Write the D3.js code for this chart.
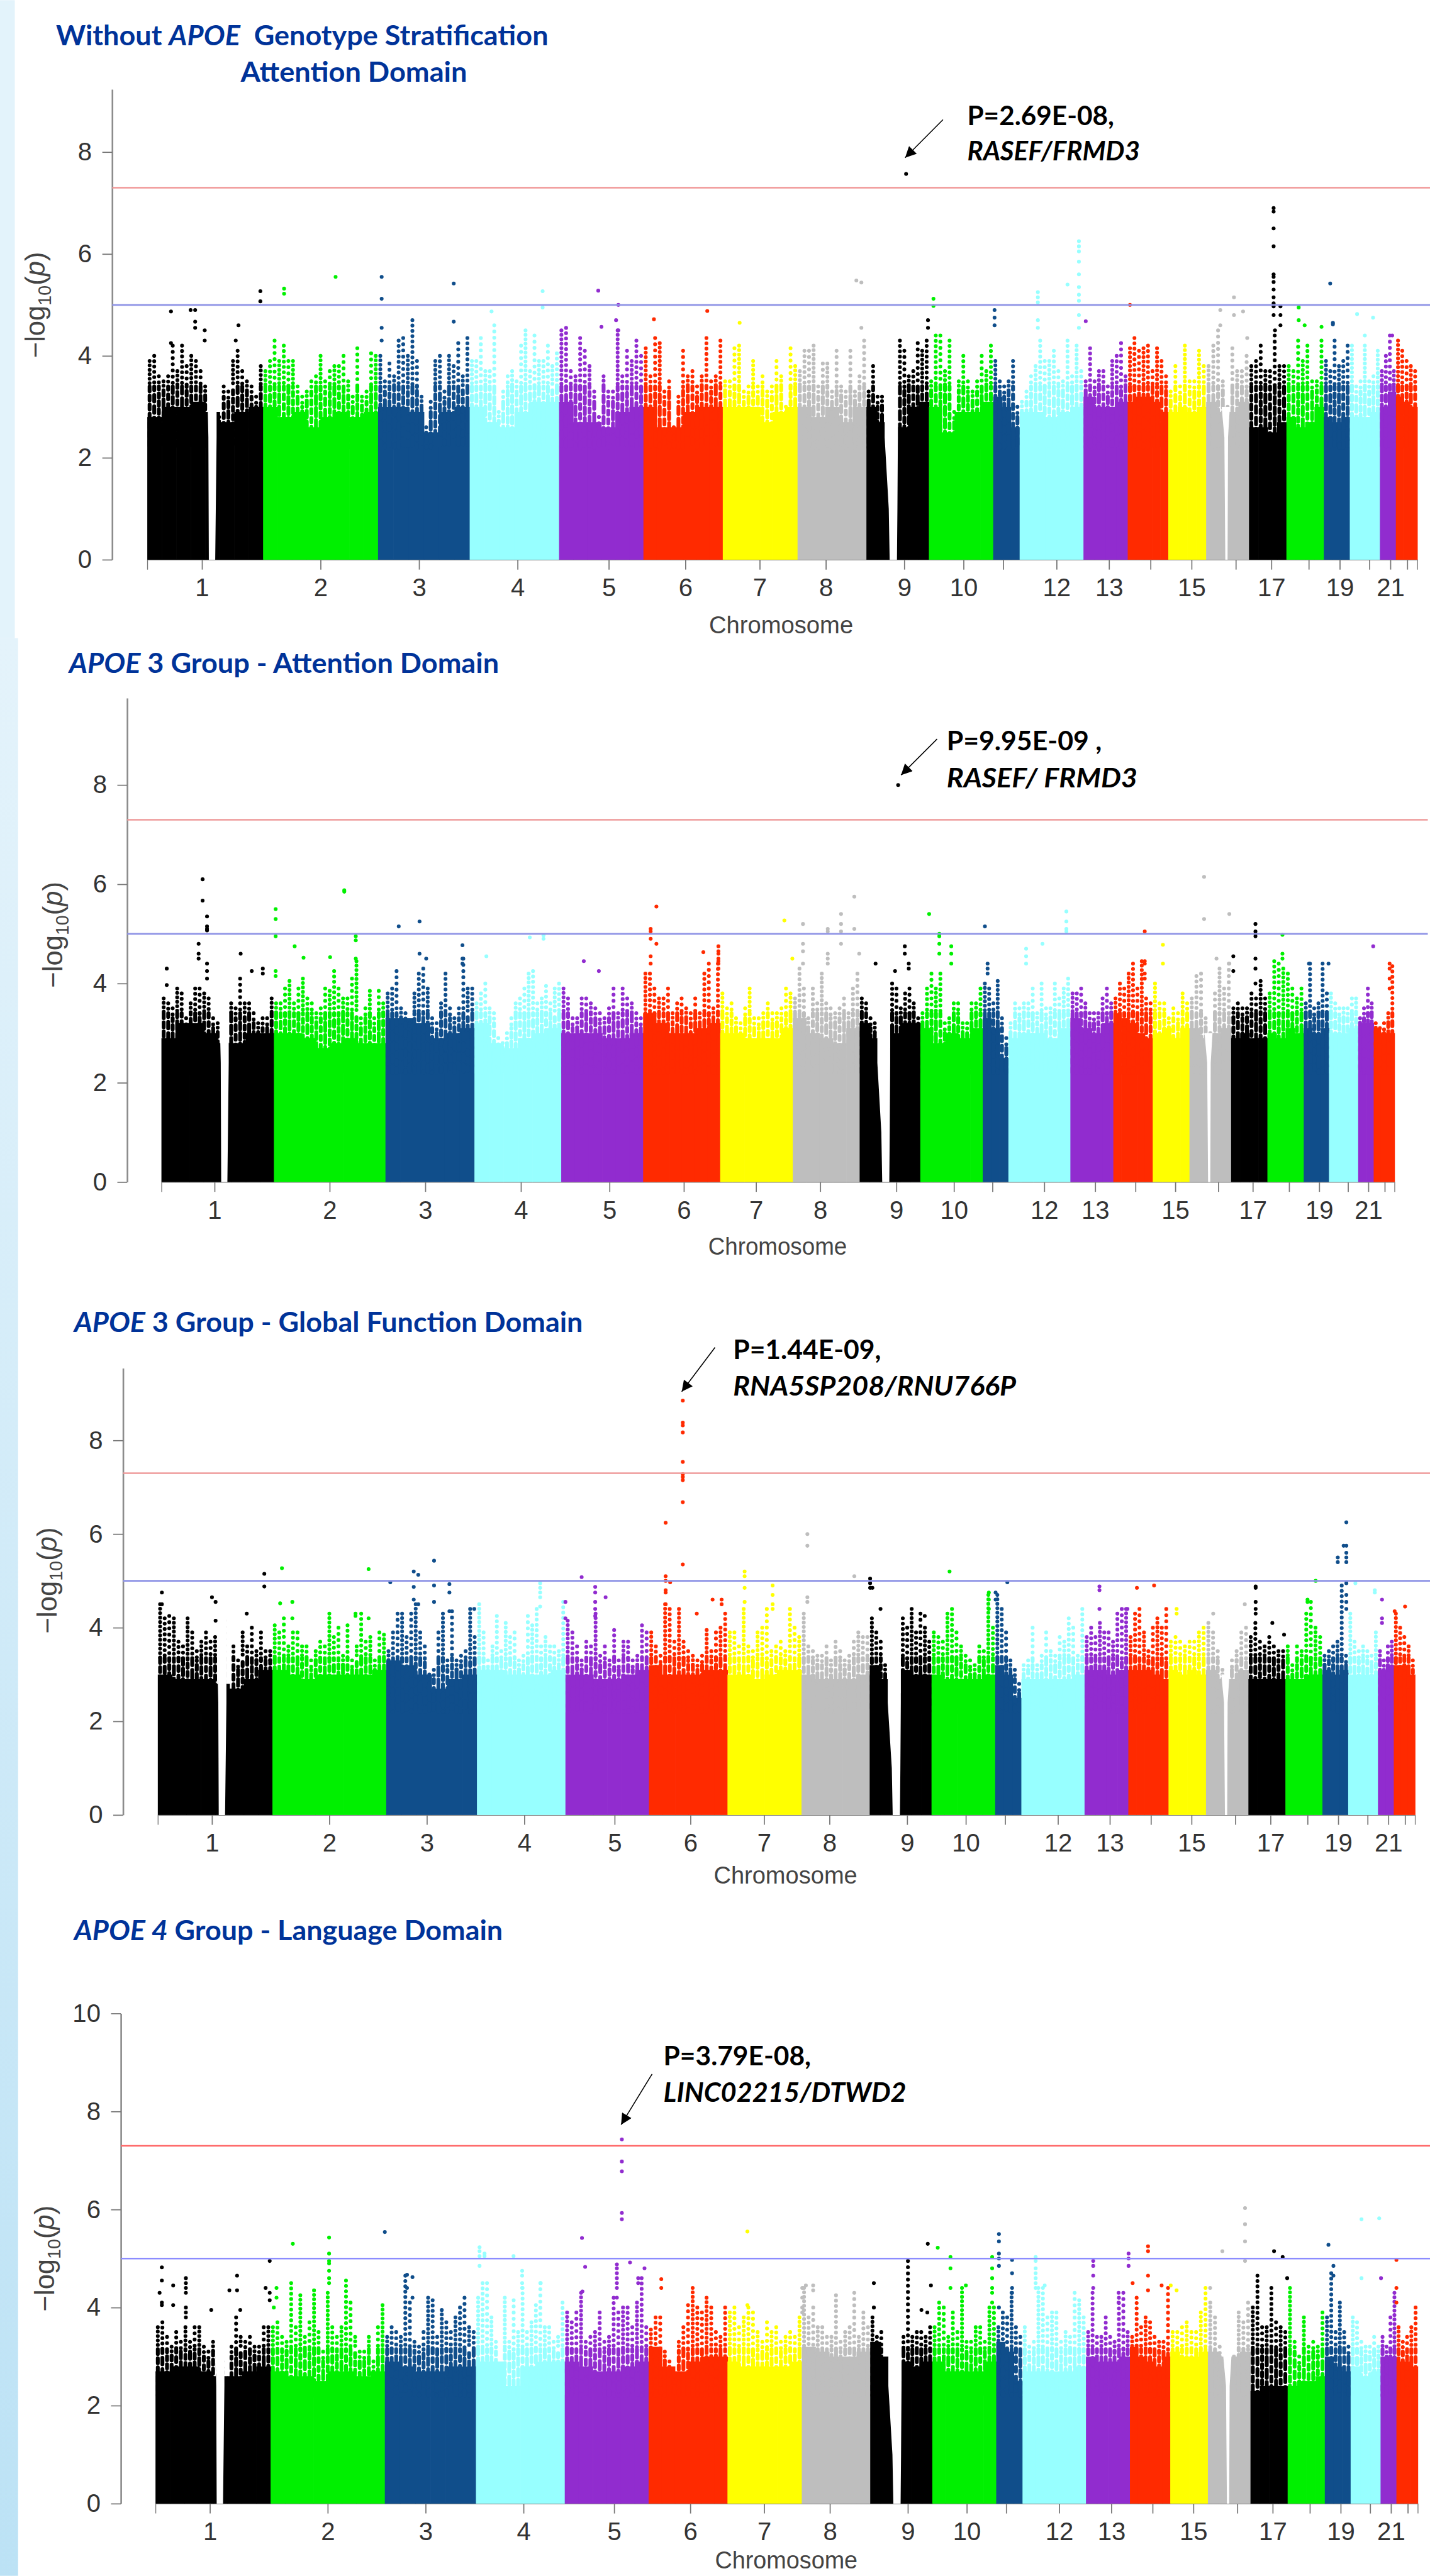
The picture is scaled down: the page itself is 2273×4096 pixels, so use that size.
<!DOCTYPE html>
<html>
<head>
<meta charset="utf-8">
<script src="https://cdn.jsdelivr.net/npm/d3@7"></script>
<style>
  html, body { margin: 0; padding: 0; background: #fff; }
  svg { display: block; }
</style>
</head>
<body>
<div id="chart"></div>
<script>
// DATA //
// positions along the genome are in track units, 0 to 2785 across the 22 chromosomes

const chromEdges = [0,254,506,707,903,1088,1262,1426,1577,1714,1855,1913,2053,2150,2239,2322,2416,2498,2580,2637,2703,2738,2785];
const chromTicks = [120,380,596,812,1012,1180,1343,1488,1660,1790,1877,1994,2109,2200,2290,2387,2465,2547,2615,2680,2726,2763];
const chromLabels = ["1","2","3","4","5","6","7","8","9","10","","12","13","","15","","17","","19","","21",""];
const chromColors = ["#000000","#00f000","#104e8b","#97ffff","#912ccf","#ff2a00","#ffff00","#bebebe"];

// centromere notches, rows of [value, left, right]
const notchChr1 = [[0,135,149],[2.4,134,152],[3.2,132,152],[5,132,152]];
const notchChr9 = [[0,1628,1644],[1.0,1626,1645],[2.4,1617,1646],[5,1617,1646]];
const notchChr16 = [[0,2364,2369],[2.4,2362,2370],[3.0,2356,2374]];

// panel 1, without stratification, attention
const allAttnMass = [[2.8,3.0,3.0,3.1,2.9,2.7,2.9,3.0],[3.0,2.8,2.9,2.6,2.8,2.9,2.8,2.9],[3.0,3.0,2.9,2.5,2.9,3.0],[3.0,2.7,2.6,2.9,3.1,3.1],[3.1,2.7,2.7,2.6,2.9,3.0],[3.0,2.6,2.6,2.9,3.0,3.0],[3.0,3.0,3.0,2.7,2.9,3.0],[3.0,2.8,3.0,2.7,3.0],[3.0,2.7,2.6,2.6,3.0,3.1],[3.0,2.5,2.9,2.9,3.1],[3.2,3.0,2.6],[2.9,2.9,2.8,2.9,3.0],[3.2,3.0,3.0,3.1],[3.1,3.2,3.2,3.1,2.9],[2.9,3.0,2.9,3.0],[3.1,2.9,2.9,3.1],[2.6,2.6,2.5,2.7],[2.8,2.6,2.7,3.0],[2.8,2.7,2.8],[2.8,2.8,2.9],[3.0,3.3],[3.2,3.1,3.0]];
const allAttnTowers = [
  [3.9,4.0,3.6,3.5,3.6,4.2,3.7,4.2,3.8,4.0,3.9,3.7,3.4,0,0,2.8,3.4,3.3,3.9,4.1,3.7,3.5,3.4,3.2,3.8],
  [3.7,3.9,4.3,3.9,4.2,3.9,3.9,3.4,3.2,3.3,3.5,3.6,4.0,3.5,3.7,3.8,3.8,4.0,3.5,3.2,4.15,3.2,3.3,4.05,4.0],
  [4.0,3.5,3.85,3.6,4.3,4.35,4.0,4.7,3.9,3.2,2.6,3.1,3.9,4.0,3.3,4.0,3.8,4.25,3.6,4.35],
  [3.9,3.9,4.35,3.7,3.7,4.6,2.9,3.3,3.6,3.7,3.5,4.2,4.5,3.7,4.4,3.9,3.9,4.2,3.8,4.05],
  [4.5,4.55,3.7,3.6,4.35,4.1,3.8,3.3,2.8,3.6,3.3,3.3,4.5,3.6,4.1,3.9,4.3,4.0],
  [4.15,3.6,4.35,4.25,3.3,3.5,2.6,3.2,4.1,3.6,3.7,3.4,3.6,4.35,3.5,3.6,4.3],
  [3.5,3.5,4.15,4.2,3.3,3.4,3.9,3.4,3.6,3.3,3.4,3.9,3.6,3.0,4.15,3.8],
  [3.7,4.1,4.1,4.2,3.4,3.85,3.85,3.3,4.1,3.4,3.3,4.1,3.3,3.6,4.3],
  [3.3,3.8,3.2,3.2,0,0,2.5,4.3,4.1,3.6,3.7,4.25,4.1,4.3],
  [3.5,4.4,4.4,3.7,4.3,2.9,3.5,4.0,3.5,3.3,3.5,4.0,3.7,4.2],
  [3.9,3.5,3.4,3.5,3.9,3.0],
  [3.1,3.3,3.6,3.8,4.3,3.9,3.9,4.1,3.7,3.5,4.3,3.6,4.2,3.7],
  [3.5,4.15,3.5,3.7,3.7,3.4,3.9,4.0,4.25,3.6],
  [4.15,4.35,4.1,4.15,4.2,3.7,4.15,3.9,3.6],
  [3.3,3.8,3.4,4.2,3.5,3.5,4.1,3.8],
  [3.8,4.2,4.5,3.5,3.0,4.15,3.7,3.7,4.0],
  [3.8,3.9,4.2,3.7,3.7,4.4,3.8,3.8],
  [3.8,3.7,4.3,3.9,4.2,3.5,3.5,4.3],
  [3.9,3.7,4.3,3.8,3.9,4.2],
  [4.2,3.4,3.5,4.2,3.5,3.6,4.1],
  [3.7,4.0,4.4,3.7],
  [4.3,4.1,3.9,3.8,3.7]
];
const allAttnPeaks = [[52,4.87,4.25],[95,4.9],[105,4.9,4.67,4.55],[126,4.5,4.3],[194,4.3],[200,4.6],[248,5.27,5.07],[300,5.32,5.22],[413,5.55],[514,5.55,5.12,4.55,4.3],[672,5.42,4.67],[755,4.87],[867,5.27,4.95],[989,5.28],[1033,5.0,4.5],[1028,4.7],[996,4.57],[1111,4.72],[1228,4.88],[1299,4.65],[1555,5.48],[1566,5.44,4.55],[1664,7.57],[1712,4.7,4.55],[1724,5.12,4.98],[1858,4.9,4.75,4.6],[1953,5.25,5.15,5.05,4.7,4.55],[2043,6.25,6.15,6.05,5.85,5.6,5.35,5.2,5.08,4.8,4.55],[2018,5.4],[2058,4.68],[2155,5.0],[2353,4.9,4.6],[2383,5.15,4.8],[2403,4.87],[2412,4.35],[2470,6.9,6.83,6.5,6.15,5.6,5.55,5.45,5.3,5.15,5.03,4.97,4.8],[2485,4.97,4.8,4.6],[2473,4.5],[2525,4.95,4.7],[2538,4.6],[2575,4.57],[2594,5.42],[2600,4.65,4.62],[2653,4.82],[2688,4.75],[2670,4.4],[2730,4.4]];

// panel 2, APOE 3, attention
const e3AttnMass = [[2.9,3.2,3.2,3.0,2.8,2.8,3.0,3.0],[3.0,3.0,2.9,2.7,2.8,2.9,2.8,2.8],[3.3,3.3,3.2,2.9,3.0,3.1],[3.2,2.8,2.7,2.9,3.0,3.1],[3.0,3.0,3.0,2.9,2.9,3.0],[3.4,3.2,3.0,3.0,3.1,3.2],[3.0,3.0,2.9,2.9,2.9,3.1],[3.3,3.0,2.9,2.8,3.1],[3.2,2.9,2.7,3.0,3.2,3.2],[3.1,2.8,3.0,2.9,3.1],[3.3,3.1,2.5],[2.9,3.0,3.0,2.9,3.1],[3.3,3.1,3.0,3.2],[3.4,3.3,3.2,3.0,2.9],[3.0,3.1,2.9,3.1],[3.1,2.9,3.0,3.1],[2.9,3.0,2.9,2.9],[3.0,2.9,3.1,3.0],[3.1,3.0,3.1],[3.0,3.0,3.1],[3.2,3.2],[3.1,3.0,3.0]];
const e3AttnTowers = [
  [3.7,3.6,3.5,3.9,3.8,3.3,3.6,3.9,3.9,3.8,3.7,3.3,3.2,0,2.8,3.6,3.5,4.1,3.6,3.6,3.4,3.2,3.3,3.3,3.7],
  [3.6,3.6,3.9,4.05,3.6,3.9,4.1,3.7,3.6,3.4,3.5,3.9,3.85,4.25,3.9,3.7,3.7,4.1,4.45,3.3,3.5,3.85,3.3,3.85,3.6],
  [3.8,3.9,4.25,3.5,3.4,3.2,3.8,4.2,4.3,3.9,3.3,3.2,3.6,4.2,3.5,3.3,3.5,4.5,3.9,3.9],
  [3.6,3.8,4.0,3.5,3.4,2.9,2.8,3.0,3.3,3.6,3.7,3.9,4.2,4.25,3.6,3.7,3.95,3.6,3.9,4.0],
  [3.9,3.7,3.3,3.3,3.7,3.7,3.6,3.5,3.4,3.3,3.5,3.9,3.4,3.9,3.7,3.6,3.4,3.3],
  [4.2,4.2,3.9,3.7,3.7,3.9,3.4,3.6,3.7,3.5,3.4,3.7,3.4,4.2,4.4,3.5,4.4],
  [3.8,3.5,3.6,3.3,3.2,3.5,3.9,3.3,3.3,3.4,3.6,3.4,3.4,3.5,3.9,3.8],
  [3.7,4.3,3.9,3.3,3.9,3.6,4.2,3.6,3.5,3.4,3.5,3.7,3.4,3.9,4.2],
  [3.7,3.6,3.3,3.2,0,0,2.5,4.0,3.9,3.5,3.8,3.9,3.6,3.3],
  [3.4,3.9,4.2,3.9,4.2,3.2,3.3,3.6,3.6,3.2,3.2,3.6,3.6,3.9],
  [4.0,3.9,3.6,4.05,3.3,2.9],
  [3.2,3.6,3.5,3.6,3.6,3.9,3.4,4.0,3.5,3.5,4.0,3.7,3.9,4.1],
  [3.8,3.8,3.9,3.6,3.4,3.4,3.4,3.7,3.9,3.6],
  [3.7,4.0,3.9,4.2,4.4,3.9,4.45,3.7,3.6],
  [4.0,3.6,3.6,3.3,3.5,3.4,3.8,3.6],
  [3.7,4.15,4.2,3.3,3.0,3.8,4.3,3.9,4.4],
  [3.5,3.6,3.5,3.5,3.8,3.7,4.05,3.7],
  [3.8,4.45,4.4,4.3,4.2,3.9,3.7,3.9],
  [3.6,4.4,3.5,3.6,4.4,3.8],
  [3.8,3.6,3.5,3.5,3.5,3.7,3.7],
  [3.3,3.5,3.9,3.6],
  [3.2,3.1,3.2,3.4,4.35]
];
const e3AttnPeaks = [[12,4.3,3.97],[93,6.1,5.67],[103,5.35,5.15,5.1,5.07,4.4,4.25,4.1],[84,4.8,4.6,4.5],[179,4.6],[204,4.25],[229,4.3,4.2],[258,5.5,5.3,4.95,4.25,4.15],[301,4.75],[321,4.52],[381,4.53],[413,5.88,5.85],[439,4.95,4.87,4.5],[536,5.15],[583,5.25,4.6],[598,4.5],[680,4.77,4.5,4.4],[734,4.55],[832,4.93],[863,4.97,4.9],[954,4.45],[988,4.25],[1118,5.55],[1105,5.1,5.05,4.9,4.55,4.4],[1118,4.8],[1224,4.63],[1258,4.75,4.65,4.6,4.5,4.45,4.4,4.3],[1407,5.27],[1425,4.5],[1449,5.2,4.8,4.65,4.4],[1505,5.1,5.05,4.6,4.5,4.4],[1535,5.4,5.2,5.05,4.8],[1565,5.75,5.1],[1576,4.6],[1613,4.4],[1664,8.0],[1679,4.75,4.6],[1688,4.4,4.3],[1657,4.25],[1734,5.4],[1757,5.0,4.95,4.8,4.6],[1784,4.75,4.6,4.4],[1860,5.15],[1866,4.4,4.3,4.2],[2044,5.45,5.25,5.1,5.05],[1953,4.7,4.55,4.4],[1990,4.8],[2221,5.05,4.45,4.4,4.2,4.1],[2262,4.78,4.4],[2355,6.15,5.3],[2383,4.5],[2412,5.4,4.4],[2421,4.55,4.25],[2471,5.2,5.05,5.0,4.95,4.5,4.3,4.0],[2532,4.98,4.6,4.5],[2592,4.4],[2636,4.4],[2737,4.75],[2774,4.4,4.3,4.1,3.9]];

// panel 3, APOE 3, global function
const e3GlobalMass = [[3.0,2.9,2.9,2.9,2.8,2.7,2.9,3.1],[3.1,3.0,2.9,3.0,3.0,3.0,3.0,3.1],[3.3,3.2,3.0,2.7,2.9,3.0],[3.1,3.1,3.0,3.0,3.0,3.1],[3.0,3.0,2.9,2.9,3.0,3.1],[3.2,3.0,3.0,3.0,3.1,3.1],[3.0,3.0,2.9,3.0,3.1,3.1],[3.0,2.9,2.9,2.9,3.0],[3.2,2.9,2.6,3.1,3.0,3.0],[3.0,2.9,2.9,2.9,3.0],[3.2,3.0,2.5],[2.9,2.9,2.9,2.9,3.0],[3.1,3.1,3.0,3.1],[3.1,3.1,3.1,3.0,2.9],[3.1,3.0,3.1,3.0],[3.1,2.9,2.9,3.1],[2.9,2.9,2.9,2.9],[2.9,2.9,3.0,3.0],[3.1,3.0,3.1],[3.0,3.0,3.0],[3.1,3.2],[3.2,3.2,3.0]];
const e3GlobalTowers = [
  [4.5,4.2,4.25,4.2,3.7,3.6,4.2,3.9,3.5,3.7,3.9,3.7,3.8,4.1,4.15,0,3.6,3.3,3.9,3.6,4.0,3.5,3.9,3.5,3.5],
  [4.05,3.9,4.2,3.6,3.9,3.9,3.6,3.6,3.3,3.5,3.7,3.6,4.3,3.8,4.0,3.4,4.05,3.3,3.6,4.3,3.7,3.8,3.3,3.9,3.85],
  [3.5,3.9,4.3,4.3,3.8,4.3,4.5,3.9,3.6,3.0,3.1,3.9,4.3,3.3,4.35,3.3,3.4,3.5,4.4,3.8],
  [4.5,3.9,3.3,3.6,4.25,3.5,4.1,3.8,3.9,3.3,3.4,4.25,4.05,4.4,3.6,3.8,3.6,3.6,3.5,4.55],
  [4.15,3.9,3.6,3.3,3.7,3.6,4.3,3.4,3.6,3.3,3.95,3.3,3.7,3.7,3.3,3.4,4.05,3.9],
  [3.9,3.6,3.4,4.5,4.4,3.7,4.4,3.7,3.5,3.4,3.3,3.4,3.95,3.5,3.9,4.0,4.3],
  [3.9,3.9,3.6,4.4,3.6,3.5,3.9,4.0,4.4,3.5,3.6,3.7,3.5,4.4,4.0,3.8],
  [4.3,3.6,3.5,3.4,3.4,3.6,3.3,3.7,3.5,3.3,3.4,3.7,3.9,3.8,3.8],
  [4.2,3.9,3.7,3.2,0,0,2.3,4.2,4.0,4.3,3.9,4.3,4.0,3.7],
  [3.9,3.8,3.7,4.3,4.4,3.9,3.6,3.4,3.3,3.2,3.6,3.5,4.7,4.0],
  [4.7,4.4,3.9,3.3,3.1,2.8],
  [3.2,3.3,4.0,3.2,3.4,3.9,3.5,3.4,3.8,3.7,4.2,4.0,3.4,4.4],
  [3.8,4.0,3.8,4.1,3.9,3.9,3.7,4.3,4.4,4.4],
  [3.8,4.3,4.4,3.9,3.5,4.0,4.2,4.0,4.4],
  [3.7,3.8,3.7,3.6,3.7,3.7,3.9,4.0],
  [4.1,3.9,3.5,3.1,2.9,3.3,3.5,3.9,4.0],
  [3.8,4.1,3.7,3.6,3.8,3.6,3.5,3.5],
  [3.6,3.2,3.6,3.5,4.3,4.55,4.0,3.8],
  [3.4,3.5,3.6,3.7,4.9,3.4],
  [4.3,3.7,3.5,3.6,3.5,3.4,3.9],
  [3.5,3.3,3.6,3.7],
  [4.3,4.0,3.8,3.6,3.3]
];
const e3GlobalPeaks = [[9,4.75,4.5],[120,4.65],[128,4.55,4.15],[197,4.3],[236,5.15,4.88],[275,5.27],[271,4.52],[298,4.55,4.2],[467,5.25,4.2],[438,4.3,4.25],[515,4.97],[567,5.2,4.87,4.6],[577,5.13,4.5],[612,5.43,4.9,4.55],[646,4.93,4.75,4.35],[701,4.4],[847,4.95,4.85,4.75,4.65,4.45],[903,4.55,4.2],[939,5.08],[969,4.87,4.75,4.55,4.4,4.25],[992,4.65],[1163,8.85,8.38,8.32,8.17,7.54,7.28,7.22,7.15,6.68,5.35],[1125,6.24,5.1,5.0,4.8,4.75,4.5],[1135,4.97],[1229,4.6],[1194,4.3],[1249,4.6,4.5],[1300,5.2,5.1,4.85,4.55],[1362,4.9,4.7,4.5,4.4],[1439,6.0,5.75,4.65,4.55],[1543,5.1],[1578,5.05,4.95,4.85],[1583,4.85],[1601,4.4],[1670,4.4],[1699,4.25],[1754,5.2],[1841,4.75,4.6,4.4],[1856,4.75,4.6],[1882,4.97],[2086,4.88,4.8,4.4],[2148,4.4],[2169,4.85],[2207,4.9],[2257,4.4,4.3],[2338,4.3],[2408,4.5],[2432,4.88,4.85,4.55,4.4,4.3],[2469,4.1],[2495,3.85],[2565,5.0],[2547,4.6,4.55],[2633,6.25,5.75,5.6,5.5,5.4,4.95,4.7,4.55,4.4],[2627,5.75],[2614,5.5,5.4],[2653,4.95],[2696,4.8,4.75],[2712,4.6,4.2,4.1],[2763,4.45],[2740,4.35]];

// panel 4, APOE 4, language
const e4LangMass = [[2.7,2.8,2.8,2.7,2.6,2.6,2.7,2.8],[2.7,2.6,2.6,2.5,2.7,2.7,2.6,2.7],[2.9,2.8,2.7,2.7,2.8,2.8],[2.9,2.9,2.4,2.8,2.9,2.9],[2.9,2.8,2.7,2.7,2.8,2.9],[3.2,2.8,2.7,2.9,3.0,3.0],[2.9,2.8,2.8,2.8,2.8,2.9],[3.2,3.1,3.0,3.0,3.1],[3.3,3.0,2.5,2.9,2.8,2.9],[2.9,2.7,2.7,2.7,2.9],[3.3,3.1,2.5],[2.7,2.7,2.7,2.7,2.8],[3.0,2.9,2.9,3.0],[3.2,3.0,2.9,2.8,3.0],[3.1,3.0,3.0,3.1],[3.1,3.0,3.0,3.1],[2.3,2.4,2.4,2.4],[2.4,2.5,2.5,2.6],[3.0,2.8,2.7],[2.8,2.6,2.7],[3.0,3.0],[2.9,2.9,2.8]];
const e4LangTowers = [
  [3.6,3.7,3.4,3.2,3.5,3.3,3.6,3.3,3.6,3.6,3.2,3.1,3.3,3.2,2.9,0,3.2,3.8,3.4,3.3,3.4,3.2,3.2,3.6,3.6],
  [3.6,3.7,3.4,3.3,4.5,3.6,4.25,3.4,3.7,4.35,3.5,3.1,4.3,3.6,3.4,3.6,4.55,4.1,3.4,3.1,3.1,3.4,2.9,3.6,4.05],
  [3.4,3.6,3.5,3.4,4.65,4.1,3.3,3.2,3.5,4.2,4.15,3.4,3.95,3.7,3.5,3.8,4.0,4.2,3.6,3.5],
  [4.2,4.5,4.5,3.8,3.3,2.4,4.2,3.3,4.15,3.5,4.4,3.5,3.7,4.05,4.5,3.6,3.6,3.3,3.4,4.1],
  [3.9,3.7,3.9,4.3,3.3,3.4,3.5,3.9,3.3,3.4,4.2,3.9,4.0,4.0,3.6,4.1,4.6,3.6],
  [3.55,3.8,3.8,3.1,2.9,2.6,3.3,3.6,4.05,4.4,4.0,3.9,4.2,4.0,3.5,3.4,4.0],
  [3.9,4.0,3.6,3.8,4.0,3.9,3.5,3.3,3.7,3.5,3.6,3.3,3.4,3.5,3.4,3.8],
  [4.4,3.8,4.0,3.6,3.6,3.4,3.4,4.25,3.3,3.5,3.6,4.3,3.4,3.9,3.6],
  [3.8,3.4,3.5,2.7,0,0,2.6,3.4,4.95,3.4,3.5,3.5,3.4,3.6],
  [3.6,4.1,4.0,3.4,3.9,3.5,4.4,3.3,3.3,3.6,3.6,3.3,4.0,4.0],
  [3.6,3.9,3.8,4.3,3.6,3.4],
  [3.6,3.2,3.3,4.4,4.4,3.8,3.9,3.9,3.3,3.5,3.4,4.3,4.15,3.8],
  [3.5,4.3,3.4,3.4,3.8,3.4,3.3,4.2,4.3,3.5],
  [3.4,4.2,3.6,3.8,3.7,3.4,3.3,3.3,4.4],
  [3.5,3.5,3.6,3.7,3.5,3.5,3.9,4.4],
  [4.1,3.8,3.2,2.8,2.6,3.0,3.9,3.7,4.1],
  [4.0,4.65,3.6,3.6,4.4,3.7,3.6,3.5],
  [4.4,3.3,3.0,3.8,3.2,3.3,3.2,3.9],
  [3.8,4.7,3.5,4.1,3.5,3.2],
  [3.8,3.7,3.3,3.2,3.2,3.4,3.2],
  [3.4,3.2,3.8,4.3],
  [3.6,3.3,3.4,3.6,4.0]
];
const e4LangPeaks = [[14,4.82,4.55,4.1,4.05],[9,4.3],[39,4.45,4.05],[67,4.6,4.5,4.4,4.3,4.0,3.9,3.8],[123,3.95],[180,4.65,4.35],[163,4.35],[187,3.95],[243,4.4],[252,4.95,4.3,4.15],[261,4.0],[303,5.3],[383,5.43,5.1,4.95,4.9,4.75,4.6,4.5],[506,5.54],[267,4.4,4.2],[555,4.67,4.4],[567,4.62,4.2],[715,5.23,5.15,5.05,4.85],[726,5.1,5.05],[790,5.05],[809,4.75,4.65,4.5,4.4],[850,4.5],[941,5.42],[948,4.83],[942,4.33],[1029,7.43,6.98,6.78,5.93,5.8],[1018,4.88,4.8,4.7,4.6,4.5,4.4,4.2],[1047,4.92],[1079,4.8],[1065,4.6,4.5],[1116,4.58,4.4],[1306,5.55,4.05],[1427,4.4,4.2,4.0,3.9],[1435,4.45],[1451,4.45,4.35],[1585,4.5,4.0],[1704,5.3],[1711,4.45],[1690,3.95],[1703,3.9],[1726,5.22],[1754,5.03,4.8,4.4],[1846,5.03,4.8,4.6,4.4,4.3,4.1],[1788,4.45],[1861,5.5,5.35,5.1,5.0,4.85,4.0],[1890,4.97,4.7,4.4,4.3],[1942,5.03,4.95,4.8,4.7,4.6,4.5,4.4],[1962,4.45],[2069,4.95,4.85,4.65,4.4],[2147,5.1,5.0,4.85],[2125,4.3,4.1],[2190,5.25,5.15,4.65,4.35],[2220,4.45],[2240,4.45],[2156,4.5],[2253,4.35],[2327,4.4],[2404,6.03,5.7,5.35,4.95],[2354,5.15],[2468,5.15],[2487,5.03],[2497,4.6],[2588,5.28],[2599,4.85,4.65],[2661,5.8,4.6],[2700,5.82],[2704,4.6],[2738,4.97,4.4,4.1]];

// LAYOUT //
const refWidth = 2608, refHeight = 4699;

const panels = [
  { mass: allAttnMass, towers: allAttnTowers, peaks: allAttnPeaks, denseTop: 3.4, x0: 268.6, x1: 2584.8, y0: 1020.8, yTopPx: 162.7, yMax: 9.23, axisX: 204.6, lineEnd: 2608,
    ticks: [0,2,4,6,8], ylabX: 82, ylabY: 556, xlab: [1293,1155,263], redC: "#f19797", blueC: "#8f94e6",
    title: [{x:102,y:82,w:898,parts:[["Without ",0],["APOE",1],["  Genotype Stratification",0]]},{x:439,y:149,w:413,parts:[["Attention Domain",0]]}],
    notes: [[1764,228,268,"P=2.69E-08,",0],[1764,292,315,"RASEF/FRMD3",1]], arrow: [1719.8,218,1650.8,287.3] },
  { mass: e3AttnMass, towers: e3AttnTowers, peaks: e3AttnPeaks, denseTop: 3.4, x0: 294.4, x1: 2543.2, y0: 2156.1, yTopPx: 1273.4, yMax: 9.75, axisX: 232, lineEnd: 2604,
    ticks: [0,2,4,6,8], ylabX: 114, ylabY: 1705, xlab: [1291.6,2289,253], redC: "#ee9a9a", blueC: "#8f94e6",
    title: [{x:126,y:1227,w:784,parts:[["APOE",1],[" 3 Group - Attention Domain",0]]}],
    notes: [[1726.5,1369,283,"P=9.95E-09 ,",0],[1726.5,1436,348,"RASEF/ FRMD3",1]], arrow: [1709,1348,1643.3,1413.7] },
  { mass: e3GlobalMass, towers: e3GlobalTowers, peaks: e3GlobalPeaks, denseTop: 3.35, x0: 287.8, x1: 2580.6, y0: 3310.9, yTopPx: 2496, yMax: 9.54, axisX: 224.5, lineEnd: 2608,
    ticks: [0,2,4,6,8], ylabX: 103, ylabY: 2883, xlab: [1301.6,3435.6,262], redC: "#ee9a9a", blueC: "#8f94e6",
    title: [{x:135,y:2430,w:928,parts:[["APOE",1],[" 3 Group - Global Function Domain",0]]}],
    notes: [[1337,2479,270,"P=1.44E-09,",0],[1337,2546,516,"RNA5SP208/RNU766P",1]], arrow: [1304,2458,1243.3,2538.6] },
  { mass: e4LangMass, towers: e4LangTowers, peaks: e4LangPeaks, denseTop: 3.15, x0: 283.6, x1: 2585.6, y0: 4567.3, yTopPx: 3673, yMax: 10, axisX: 220.5, lineEnd: 2608,
    ticks: [0,2,4,6,8,10], ylabX: 99, ylabY: 4120, xlab: [1304,4686,260], redC: "#ff6a6a", blueC: "#8c8cff",
    title: [{x:135,y:3539,w:782,parts:[["APOE 4",1],[" Group - Language Domain",0]]}],
    notes: [[1210,3768,269,"P=3.79E-08,",0],[1210,3834,443,"LINC02215/DTWD2",1]], arrow: [1189.3,3783.5,1132.7,3876] }
];

const svg = d3.select("#chart").append("svg")
  .attr("width", 2273)
  .attr("height", 4096)
  .attr("viewBox", "0 0 " + refWidth + " " + refHeight);

const defs = svg.append("defs");

// pale blue strip down the left edge
let stripGrad = defs.append("linearGradient").attr("id", "strip")
  .attr("x1", 0).attr("y1", 0).attr("x2", 0).attr("y2", 1);
stripGrad.append("stop").attr("offset", 0).attr("stop-color", "#e4f3fb");
stripGrad.append("stop").attr("offset", 1).attr("stop-color", "#bce2f5");

svg.append("rect").attr("width", refWidth).attr("height", refHeight).attr("fill", "#fff");
svg.append("rect").attr("x", 0).attr("y", 0).attr("width", 27).attr("height", 1164).attr("fill", "#e3f3fb");
svg.append("rect").attr("x", 0).attr("y", 1164).attr("width", 33).attr("height", refHeight - 1164).attr("fill", "url(#strip)");

defs.append("marker").attr("id", "head")
  .attr("viewBox", "0 0 10 10").attr("refX", 10).attr("refY", 5)
  .attr("markerWidth", 24).attr("markerHeight", 20).attr("markerUnits", "userSpaceOnUse")
  .attr("orient", "auto")
  .append("path").attr("d", "M0,0 L10,5 L0,10 Z").attr("fill", "#000");

const titleFont = "Lato, 'Open Sans', sans-serif";
const plotFont = "'Liberation Sans', Arial, sans-serif";

function chromColor(i) { return chromColors[i % chromColors.length]; }

// each panel is drawn the same way
panels.forEach(p => {
  const g = svg.append("g");

  const x = d3.scaleLinear().domain([0, 2785]).range([p.x0, p.x1]);
  const y = d3.scaleLinear().domain([0, p.yMax]).range([p.y0, p.yTopPx]);

  // x axis under the marks
  let xAxis = g.append("g")
    .attr("transform", "translate(0," + p.y0 + ")")
    .call(d3.axisBottom(x).tickValues(chromTicks).tickFormat((d, i) => chromLabels[i]).tickSize(18).tickPadding(16));
  xAxis.selectAll("line").attr("stroke", "#777").attr("stroke-width", 2);
  xAxis.select(".domain").attr("stroke", "#777").attr("stroke-width", 1.5);
  xAxis.selectAll("text").attr("font-family", plotFont).attr("font-size", 46).attr("fill", "#333");

  // y axis
  let yAxis = g.append("g")
    .attr("transform", "translate(" + p.axisX + ",0)")
    .call(d3.axisLeft(y).tickValues(p.ticks).tickSize(18).tickSizeOuter(0).tickPadding(19));
  yAxis.selectAll("line").attr("stroke", "#777").attr("stroke-width", 2);
  yAxis.select(".domain").attr("stroke", "#8c8c8c").attr("stroke-width", 3);
  yAxis.selectAll("text").attr("font-family", plotFont).attr("font-size", 46).attr("fill", "#333");

  // solid part of each chromosome
  p.mass.forEach((levels, c) => {
    const band = d3.scaleBand().domain(d3.range(levels.length)).range([chromEdges[c], chromEdges[c + 1]]);
    g.append("g").selectAll("rect").data(levels).join("rect")
      .attr("x", (d, i) => x(band(i)))
      .attr("width", x(band.bandwidth()) - x(0) + 0.8)
      .attr("y", d => y(d))
      .attr("height", d => y(0) - y(d))
      .attr("fill", chromColor(c));
  });

  // columns of points above it: packed at the bottom, separate dots further up
  p.towers.forEach((tops, c) => {
    const band = d3.scaleBand().domain(d3.range(tops.length)).range([chromEdges[c], chromEdges[c + 1]]);
    const cols = tops.map((v, i) => ({ v: v, i: i })).filter(d => d.v > 0);
    const cx = d => x(band(d.i) + band.bandwidth() / 2);
    const col = g.append("g").attr("stroke", chromColor(c)).attr("stroke-width", 7).attr("stroke-linecap", "round");

    col.append("g").selectAll("line").data(cols).join("line")
      .attr("x1", cx).attr("x2", cx)
      .attr("y1", d => y(Math.min(d.v - 0.2, p.denseTop))).attr("y2", y(2.2))
      .attr("stroke-dasharray", d => [9, 12, 7.5, 15][d.i % 4] + " " + [7.6, 8.6, 7.2][d.i % 3])
      .attr("stroke-dashoffset", d => [0, 5, 2, 8, 3][d.i % 5]);

    col.append("g").selectAll("line").data(cols).join("line")
      .attr("x1", cx).attr("x2", cx)
      .attr("y1", d => y(d.v)).attr("y2", d => y(Math.min(d.v - 0.2, p.denseTop)))
      .attr("stroke-dasharray", d => "0.1 " + [8, 9.6, 11.2][d.i % 3]);
  });

  // white notches at the centromeres
  const notch = d3.area().x0(d => x(d[1])).x1(d => x(d[2])).y(d => y(d[0]));
  [notchChr1, notchChr9, notchChr16].forEach(n => {
    g.append("path").attr("d", notch(n)).attr("fill", "#fff");
  });

  // isolated points
  p.peaks.forEach(pk => {
    const c = d3.bisectRight(chromEdges, pk[0]) - 1;
    g.append("g").attr("fill", chromColor(c)).selectAll("circle").data(pk.slice(1)).join("circle")
      .attr("cx", x(pk[0]))
      .attr("cy", d => y(d))
      .attr("r", 3.5);
  });

  // significance lines
  g.append("line").attr("x1", p.axisX).attr("x2", p.lineEnd).attr("y1", y(7.3)).attr("y2", y(7.3))
    .attr("stroke", p.redC).attr("stroke-width", 3);
  g.append("line").attr("x1", p.axisX).attr("x2", p.lineEnd).attr("y1", y(5)).attr("y2", y(5))
    .attr("stroke", p.blueC).attr("stroke-width", 3);

  // axis titles
  let yl = g.append("text")
    .attr("transform", "translate(" + p.ylabX + "," + p.ylabY + ") rotate(-90)")
    .attr("text-anchor", "middle")
    .attr("font-family", plotFont).attr("font-size", 50).attr("fill", "#444");
  yl.append("tspan").text("\u2212log");
  yl.append("tspan").attr("font-size", 33).attr("dy", 11).text("10");
  yl.append("tspan").attr("dy", -11).text("(");
  yl.append("tspan").attr("font-style", "italic").text("p");
  yl.append("tspan").text(")");

  g.append("text").attr("x", p.xlab[0]).attr("y", p.xlab[1])
    .attr("textLength", p.xlab[2]).attr("lengthAdjust", "spacingAndGlyphs")
    .attr("font-family", plotFont).attr("font-size", 44).attr("fill", "#444")
    .text("Chromosome");

  // panel title
  p.title.forEach(t => {
    let tx = g.append("text").attr("x", t.x).attr("y", t.y)
      .attr("textLength", t.w).attr("lengthAdjust", "spacingAndGlyphs")
      .style("white-space", "pre")
      .attr("font-family", titleFont).attr("font-size", 50).attr("font-weight", 700).attr("fill", "#003399");
    t.parts.forEach(part => {
      tx.append("tspan").attr("font-style", part[1] ? "italic" : "normal").text(part[0]);
    });
  });

  // annotation with arrow
  p.notes.forEach(n => {
    g.append("text").attr("x", n[0]).attr("y", n[1])
      .attr("textLength", n[2]).attr("lengthAdjust", "spacingAndGlyphs")
      .attr("font-family", titleFont).attr("font-size", 48).attr("font-weight", 700)
      .attr("font-style", n[4] ? "italic" : "normal").attr("fill", "#000")
      .text(n[3]);
  });
  g.append("line")
    .attr("x1", p.arrow[0]).attr("y1", p.arrow[1]).attr("x2", p.arrow[2]).attr("y2", p.arrow[3])
    .attr("stroke", "#000").attr("stroke-width", 1.8).attr("marker-end", "url(#head)");
});
</script>
</body>
</html>
